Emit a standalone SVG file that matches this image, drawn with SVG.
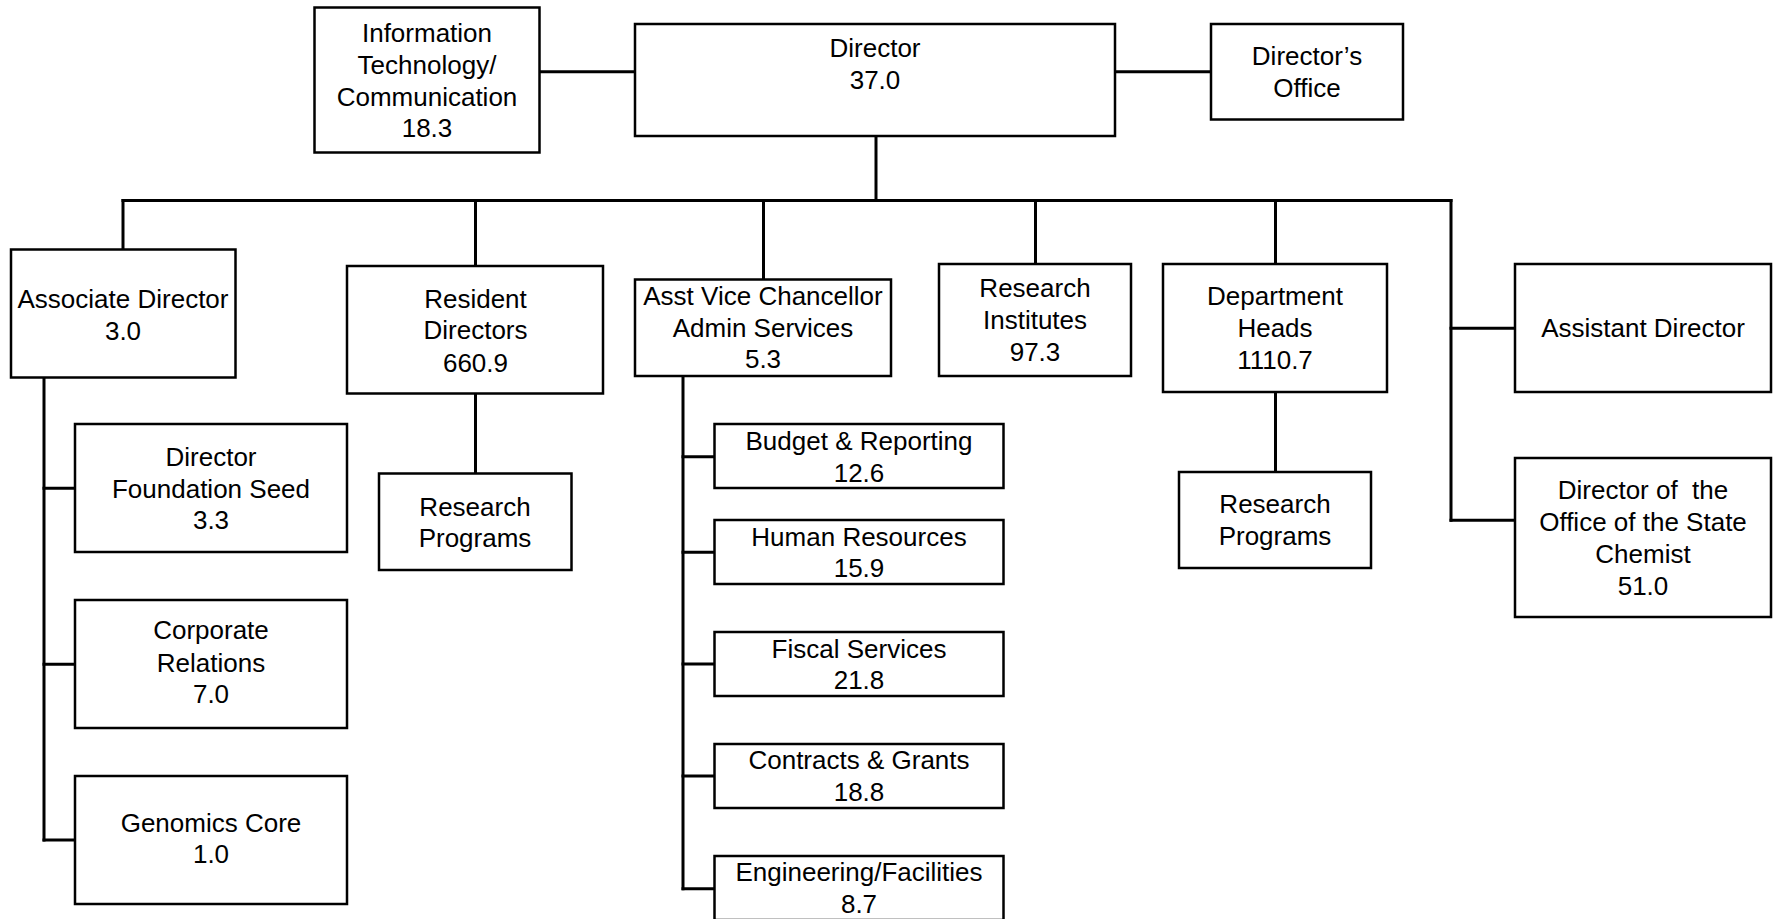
<svg xmlns="http://www.w3.org/2000/svg" width="1773" height="919" viewBox="0 0 1773 919">
<style>
rect.b{fill:#fff;stroke:#000;stroke-width:2.5}
text{font-family:"Liberation Sans",Arial,sans-serif;font-size:26px;fill:#000;text-anchor:middle;white-space:pre}
.c line{stroke:#000;stroke-width:3;stroke-linecap:square}
</style>
<rect width="1773" height="919" fill="#fff"/>
<g class="c" id="connectors">
<line x1="540" y1="71.7" x2="635" y2="71.7"/>
<line x1="1115" y1="71.7" x2="1211" y2="71.7"/>
<line x1="876" y1="136" x2="876" y2="200.5"/>
<line x1="123" y1="200.5" x2="1451" y2="200.5"/>
<line x1="123" y1="200.5" x2="123" y2="249.5"/>
<line x1="475.5" y1="200.5" x2="475.5" y2="266"/>
<line x1="763.5" y1="200.5" x2="763.5" y2="279.5"/>
<line x1="1035.5" y1="200.5" x2="1035.5" y2="264"/>
<line x1="1275.5" y1="200.5" x2="1275.5" y2="264"/>
<line x1="1451" y1="200.5" x2="1451" y2="520.3"/>
<line x1="1451" y1="328.3" x2="1515" y2="328.3"/>
<line x1="1451" y1="520.3" x2="1515" y2="520.3"/>
<line x1="44" y1="377.5" x2="44" y2="840"/>
<line x1="44" y1="488.3" x2="75" y2="488.3"/>
<line x1="44" y1="664.3" x2="75" y2="664.3"/>
<line x1="44" y1="840" x2="75" y2="840"/>
<line x1="475.5" y1="393.5" x2="475.5" y2="473.5"/>
<line x1="683" y1="376" x2="683" y2="888.7"/>
<line x1="683" y1="456.7" x2="714.5" y2="456.7"/>
<line x1="683" y1="552.3" x2="714.5" y2="552.3"/>
<line x1="683" y1="664" x2="714.5" y2="664"/>
<line x1="683" y1="776" x2="714.5" y2="776"/>
<line x1="683" y1="888.7" x2="714.5" y2="888.7"/>
<line x1="1275.5" y1="392" x2="1275.5" y2="472"/>
</g>
<g id="it"><rect class="b" x="314.5" y="7.5" width="225" height="145"/>
<text x="427" y="41.7">Information</text><text x="427" y="73.6">Technology/</text><text x="427" y="105.5">Communication</text><text x="427" y="137.3">18.3</text></g>
<g id="director"><rect class="b" x="635" y="24" width="480" height="112"/>
<text x="875" y="57">Director</text><text x="875" y="89">37.0</text></g>
<g id="directors-office"><rect class="b" x="1211" y="24" width="192" height="95.5"/>
<text x="1307" y="65">Director’s</text><text x="1307" y="96.7">Office</text></g>
<g id="associate-director"><rect class="b" x="11" y="249.5" width="224.5" height="128"/>
<text x="123" y="308.3">Associate Director</text><text x="123" y="340">3.0</text></g>
<g id="resident-directors"><rect class="b" x="347" y="266" width="256" height="127.5"/>
<text x="475.5" y="308.3">Resident</text><text x="475.5" y="339.3">Directors</text><text x="475.5" y="371.7">660.9</text></g>
<g id="avc"><rect class="b" x="635" y="279.5" width="256" height="96.5"/>
<text x="763" y="305">Asst Vice Chancellor</text><text x="763" y="336.7">Admin Services</text><text x="763" y="368.3">5.3</text></g>
<g id="research-institutes"><rect class="b" x="939" y="264" width="192" height="112"/>
<text x="1035" y="297.3">Research</text><text x="1035" y="329">Institutes</text><text x="1035" y="361">97.3</text></g>
<g id="department-heads"><rect class="b" x="1163" y="264" width="224" height="128"/>
<text x="1275" y="305">Department</text><text x="1275" y="336.7">Heads</text><text x="1275" y="369">1110.7</text></g>
<g id="assistant-director"><rect class="b" x="1515" y="264" width="256" height="128"/>
<text x="1643" y="336.7">Assistant Director</text></g>
<g id="state-chemist"><rect class="b" x="1515" y="458" width="256" height="159"/>
<text x="1643" y="499.3">Director of  the</text><text x="1643" y="531">Office of the State</text><text x="1643" y="563.3">Chemist</text><text x="1643" y="595">51.0</text></g>
<g id="research-programs-1"><rect class="b" x="379" y="473.5" width="192.5" height="96.5"/>
<text x="475" y="515.7">Research</text><text x="475" y="546.7">Programs</text></g>
<g id="research-programs-2"><rect class="b" x="1179" y="472" width="192" height="96"/>
<text x="1275" y="513.3">Research</text><text x="1275" y="545">Programs</text></g>
<g id="foundation-seed"><rect class="b" x="75" y="424" width="272" height="128"/>
<text x="211" y="465.7">Director</text><text x="211" y="497.7">Foundation Seed</text><text x="211" y="529.3">3.3</text></g>
<g id="corporate-relations"><rect class="b" x="75" y="600" width="272" height="128"/>
<text x="211" y="639.3">Corporate</text><text x="211" y="671.7">Relations</text><text x="211" y="703.3">7.0</text></g>
<g id="genomics-core"><rect class="b" x="75" y="776" width="272" height="128"/>
<text x="211" y="831.7">Genomics Core</text><text x="211" y="863.3">1.0</text></g>
<g id="budget"><rect class="b" x="714.5" y="424" width="289" height="64"/>
<text x="859" y="450">Budget &amp; Reporting</text><text x="859" y="481.7">12.6</text></g>
<g id="hr"><rect class="b" x="714.5" y="520" width="289" height="64"/>
<text x="859" y="545.7">Human Resources</text><text x="859" y="577.3">15.9</text></g>
<g id="fiscal"><rect class="b" x="714.5" y="632" width="289" height="64"/>
<text x="859" y="657.7">Fiscal Services</text><text x="859" y="689">21.8</text></g>
<g id="contracts"><rect class="b" x="714.5" y="744" width="289" height="64"/>
<text x="859" y="769.3">Contracts &amp; Grants</text><text x="859" y="801">18.8</text></g>
<g id="engineering"><rect class="b" x="714.5" y="856" width="289" height="64"/>
<text x="859" y="881.3">Engineering/Facilities</text><text x="859" y="912.7">8.7</text></g>
</svg>
